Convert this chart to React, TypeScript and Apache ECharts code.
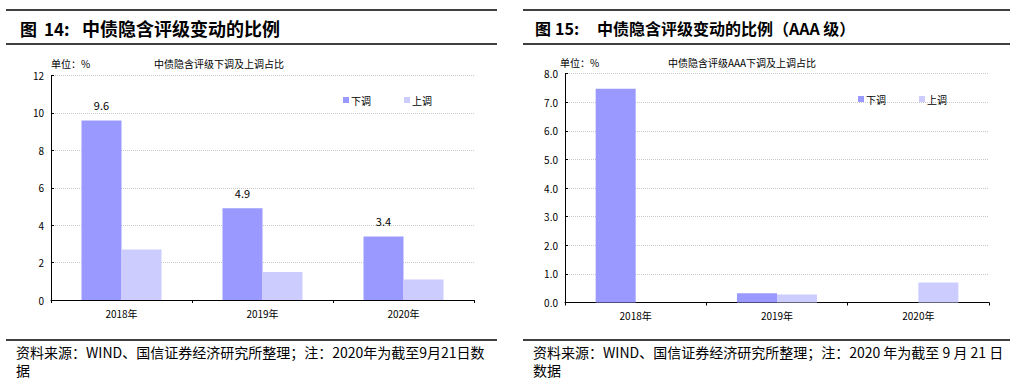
import React, { useEffect, useRef } from "react";
import * as echarts from "echarts";

const categories = ["2018年", "2019年", "2020年"];
const leftDown = [9.6, 4.9, 3.4];
const leftUp = [2.7, 1.5, 1.1];
const rightDown = [7.47, 0.32, 0];
const rightUp = [0, 0.28, 0.7];
const seriesNames = ["下调", "上调"];
const colorDown = "#9999FF";
const colorUp = "#CCCCFF";

const FONT = '"Noto Sans CJK SC", "Noto Sans", sans-serif';

function txt(
  text: string,
  x: number,
  y: number,
  size: number,
  weight = "normal",
  vAlign = "middle",
  lineHeight?: number
) {
  return {
    type: "text",
    x,
    y,
    silent: true,
    style: {
      text,
      fill: "#000",
      fontSize: size,
      fontWeight: weight,
      fontFamily: FONT,
      align: "left",
      verticalAlign: vAlign,
      lineHeight,
    },
  };
}

function hline(x1: number, x2: number, y: number, w = 1.5) {
  return {
    type: "line",
    silent: true,
    shape: { x1, y1: y, x2, y2: y },
    style: { stroke: "#000", lineWidth: w },
  };
}

export default function App() {
  const ref = useRef<HTMLDivElement>(null);
  useEffect(() => {
    const chart = echarts.init(ref.current!, null, { renderer: "svg" });
    const axisLabelStyle = { color: "#000", fontSize: 10, fontFamily: FONT };
    const xAxisCommon = {
      type: "category",
      data: categories,
      axisLine: { lineStyle: { color: "#000", width: 1 } },
      axisTick: { show: true, length: 3, lineStyle: { color: "#000" } },
      axisLabel: { ...axisLabelStyle, margin: 8 },
    };
    const yAxisCommon = {
      type: "value",
      axisLine: { show: true, lineStyle: { color: "#000", width: 1 } },
      axisTick: { show: true, inside: true, length: 3, lineStyle: { color: "#000" } },
      splitLine: { show: true, lineStyle: { color: "#c8c8c8", type: "dotted", width: 1 } },
      axisLabel: { ...axisLabelStyle, margin: 7 },
    };
    const legendCommon = {
      itemWidth: 6,
      itemHeight: 6,
      itemGap: 33,
      icon: "rect",
      textStyle: { fontSize: 10, color: "#000", fontFamily: FONT, padding: [0, 0, 0, -3] },
      data: seriesNames,
    };
    chart.setOption({
      animation: false,
      backgroundColor: "#fff",
      grid: [
        { left: 51, top: 75.5, width: 423, height: 224.5 },
        { left: 565, top: 73.5, width: 424, height: 229 },
      ],
      xAxis: [
        { ...xAxisCommon, gridIndex: 0 },
        { ...xAxisCommon, gridIndex: 1 },
      ],
      yAxis: [
        { ...yAxisCommon, gridIndex: 0, min: 0, max: 12, interval: 2 },
        {
          ...yAxisCommon,
          gridIndex: 1,
          min: 0,
          max: 8,
          interval: 1,
          axisLabel: { ...yAxisCommon.axisLabel, formatter: (v: number) => v.toFixed(1) },
        },
      ],
      legend: [
        { ...legendCommon, left: 338, top: 90 },
        { ...legendCommon, left: 853, top: 89 },
      ],
      series: [
        {
          name: seriesNames[0],
          type: "bar",
          xAxisIndex: 0,
          yAxisIndex: 0,
          data: leftDown,
          barWidth: 40,
          barGap: "0%",
          itemStyle: { color: colorDown },
          label: {
            show: true,
            position: "top",
            distance: 10,
            color: "#000",
            fontSize: 11,
            fontFamily: FONT,
            formatter: (p: any) => p.value.toFixed(1),
          },
        },
        {
          name: seriesNames[1],
          type: "bar",
          xAxisIndex: 0,
          yAxisIndex: 0,
          data: leftUp,
          barWidth: 40,
          barGap: "0%",
          itemStyle: { color: colorUp },
        },
        {
          name: seriesNames[0],
          type: "bar",
          xAxisIndex: 1,
          yAxisIndex: 1,
          data: rightDown,
          barWidth: 40,
          barGap: "0%",
          itemStyle: { color: colorDown },
        },
        {
          name: seriesNames[1],
          type: "bar",
          xAxisIndex: 1,
          yAxisIndex: 1,
          data: rightUp,
          barWidth: 40,
          barGap: "0%",
          itemStyle: { color: colorUp },
        },
      ],
      graphic: [
        hline(6, 497, 10),
        hline(6, 497, 44),
        hline(523, 1010, 10),
        hline(523, 1010, 44),
        hline(6, 497, 340),
        hline(523, 1010, 340),
        txt("图", 20, 28, 17, "bold"),
        txt("14:", 44, 28, 17, "bold"),
        txt("中债隐含评级变动的比例", 82, 28, 18, "bold"),
        txt("图", 535, 28, 16, "bold"),
        txt("15:", 555, 28, 16, "bold"),
        txt("中债隐含评级变动的比例（AAA 级）", 597, 28, 16, "bold"),
        txt("单位：%", 51, 63, 10),
        txt("中债隐含评级下调及上调占比", 154, 63, 10),
        txt("单位：%", 560, 62, 10),
        txt("中债隐含评级AAA下调及上调占比", 668, 62, 10),
        txt("资料来源：WIND、国信证券经济研究所整理；注：2020年为截至9月21日数\n据", 16, 343, 14, "normal", "top", 18),
        txt("资料来源：WIND、国信证券经济研究所整理；注：2020 年为截至 9 月 21 日\n数据", 533, 343, 14, "normal", "top", 18),
      ],
    });
    return () => chart.dispose();
  }, []);
  return (
    <div
      ref={ref}
      style={{ position: "absolute", left: 0, top: 0, width: 1019, height: 386, background: "#fff" }}
    />
  );
}
